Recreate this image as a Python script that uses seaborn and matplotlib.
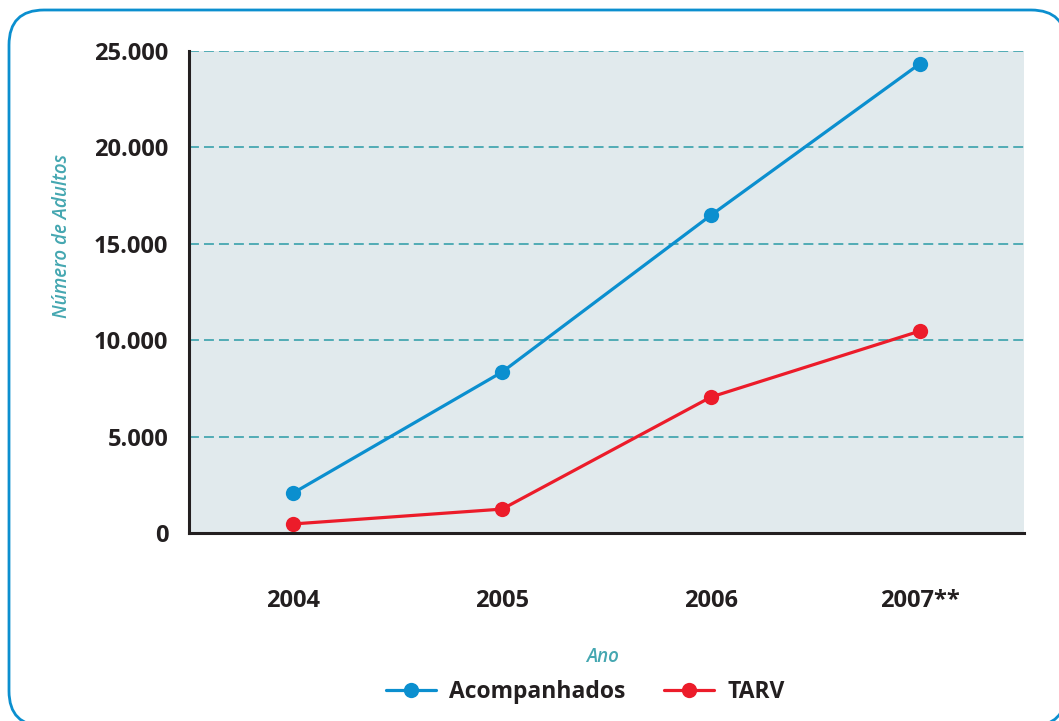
import matplotlib
matplotlib.use("Agg")
import matplotlib.pyplot as plt
from matplotlib.patches import FancyBboxPatch
from matplotlib.lines import Line2D
import seaborn as sns
import pandas as pd
import numpy as np

# Data
anos = ["2004", "2005", "2006", "2007**"]
acompanhados = [2080, 8350, 16480, 24330]
tarv = [470, 1240, 7050, 10470]
series_names = ["Acompanhados", "TARV"]
y_ticks = [0, 5000, 10000, 15000, 20000, 25000]
y_tick_labels = ["0", "5.000", "10.000", "15.000", "20.000", "25.000"]

BLUE = "#0b8fcf"
RED = "#ec1c2a"
TEAL = "#45a7b1"
INK = "#231f20"
PANEL = "#e1eaed"

sns.set_theme(style="white")
plt.rcParams["font.family"] = ["Open Sans", "DejaVu Sans"]

df = pd.DataFrame({
    "pos": list(range(len(anos))) * 2,
    "valor": acompanhados + tarv,
    "serie": [series_names[0]] * len(anos) + [series_names[1]] * len(anos),
})

W, H = 1059, 721
fig = plt.figure(figsize=(W / 100, H / 100), dpi=100)

# Background frame with rounded corners (pixel coordinates)
bg = fig.add_axes([0, 0, 1, 1])
bg.set_xlim(0, W)
bg.set_ylim(H, 0)
bg.axis("off")
r = 35
x0, y0, x1, y1 = 9, 10, 1066, 726
frame = FancyBboxPatch((x0 + r, y0 + r), (x1 - x0) - 2 * r, (y1 - y0) - 2 * r,
                       boxstyle=f"round,pad={r}", facecolor="white",
                       edgecolor=BLUE, linewidth=2.0, clip_on=True)
bg.add_patch(frame)

left, right, top, bottom = 189, 1024, 51, 533
ax = fig.add_axes([left / W, 1 - bottom / H, (right - left) / W, (bottom - top) / H])
ax.set_facecolor(PANEL)

# Dashed horizontal grid
for yv in y_ticks[1:]:
    ax.axhline(yv, color=TEAL, lw=1.3, ls=(0, (5.5, 2.8)), zorder=1)

sns.lineplot(data=df, x="pos", y="valor", hue="serie",
             palette=[BLUE, RED], marker="o", markersize=11,
             markeredgewidth=0, linewidth=2.3, legend=False, ax=ax, zorder=3)

ax.set_xlim(-0.5, len(anos) - 0.5)
ax.set_ylim(0, 25000)

for s in ["top", "right"]:
    ax.spines[s].set_visible(False)
for s in ["left", "bottom"]:
    ax.spines[s].set_color(INK)
    ax.spines[s].set_linewidth(2.2)
    ax.spines[s].set_zorder(4)

ax.set_yticks(y_ticks)
ax.set_yticklabels(y_tick_labels)
ax.tick_params(axis="y", which="major", direction="out", length=8,
               width=2.2, color=INK, pad=7, labelsize=17, labelcolor=INK)

ax.set_xticks(np.arange(-0.5, len(anos), 1.0))
ax.set_xticklabels([])
ax.tick_params(axis="x", which="major", direction="out", length=7,
               width=2.2, color=INK)
ax.set_xticks(np.arange(len(anos)), minor=True)
ax.set_xticklabels(anos, minor=True)
ax.tick_params(axis="x", which="minor", length=0, pad=40, labelsize=17,
               labelcolor=INK)
for lab in ax.get_yticklabels() + ax.get_xticklabels(minor=True):
    lab.set_fontweight("bold")

ax.set_xlabel("")
ax.set_ylabel("")

fig.text(62 / W, 1 - 236 / H, "Número de Adultos", rotation=90,
         ha="center", va="center", color=TEAL, fontsize=13.5,
         style="italic", weight="semibold")
fig.text(603 / W, 1 - 657 / H, "Ano", ha="center", va="center",
         color=TEAL, fontsize=13.5, style="italic", weight="semibold")

handles = [Line2D([], [], color=c, lw=2.3, marker="o", markersize=11,
                  markeredgewidth=0) for c in (BLUE, RED)]
leg = fig.legend(handles, series_names, loc="center", ncol=2,
                 bbox_to_anchor=(585 / W, 1 - 692 / H), frameon=False,
                 handlelength=2.2, handletextpad=0.55, columnspacing=1.7,
                 prop={"size": 16.5, "weight": "bold"})
for t in leg.get_texts():
    t.set_color(INK)

fig.savefig("out.png", dpi=100)
